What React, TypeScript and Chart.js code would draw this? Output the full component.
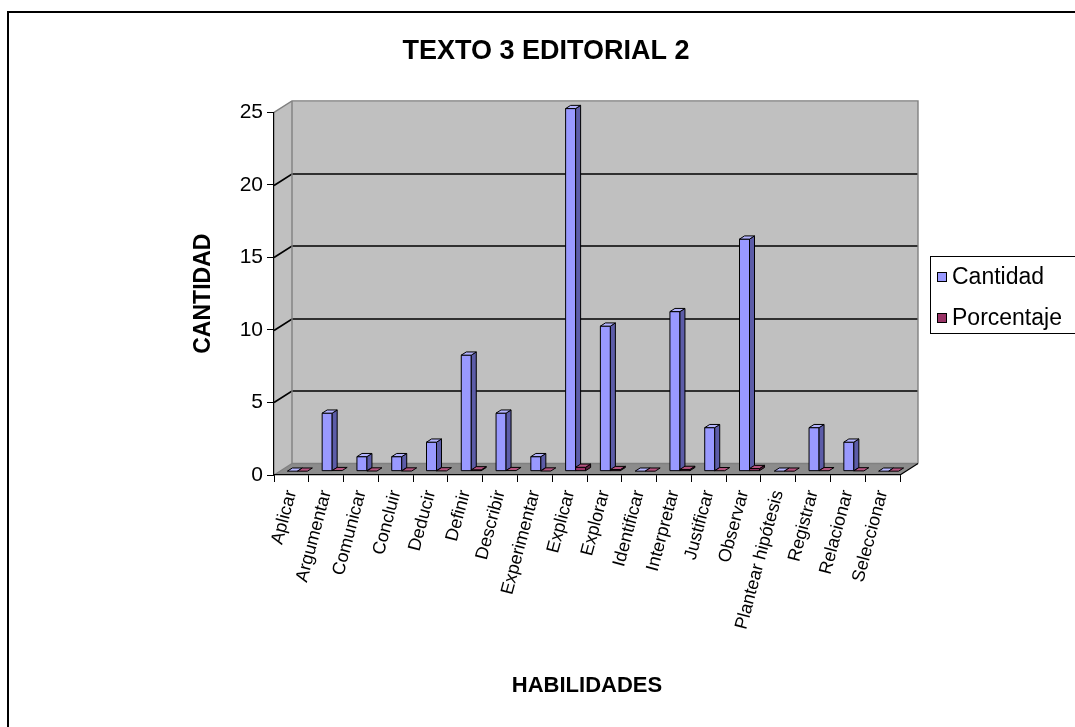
import React, { useEffect, useRef } from "react";
import { Chart, registerables } from "chart.js";

Chart.register(...registerables);

const categories = [
  "Aplicar", "Argumentar", "Comunicar", "Concluir", "Deducir", "Definir",
  "Describir", "Experimentar", "Explicar", "Explorar", "Identificar",
  "Interpretar", "Justificar", "Observar", "Plantear hipótesis", "Registrar",
  "Relacionar", "Seleccionar",
];
const cantidad = [0, 4, 1, 1, 2, 8, 4, 1, 25, 10, 0, 11, 3, 16, 0, 3, 2, 0];
const porcentaje = [0, 0.04, 0.01, 0.01, 0.02, 0.09, 0.04, 0.01, 0.27, 0.11, 0, 0.12, 0.03, 0.18, 0, 0.03, 0.02, 0];
const yTicks = [0, 5, 10, 15, 20, 25];
const seriesNames = ["Cantidad", "Porcentaje"];
const chartTitle = "TEXTO 3 EDITORIAL 2";
const xTitle = "HABILIDADES";
const yTitle = "CANTIDAD";

const FONT = "'Liberation Sans', Arial, sans-serif";
const W = 1075;
const H = 727;
const DX = 18;
const DY = 11.5;
const K = DY / DX;
const BAR_OFF = 6;
const BAR_DEPTH = 5;
const SHADES = [
  { front: "#9999FF", side: "#5C5CA8", top: "#B4B4FF" },
  { front: "#993366", side: "#5A1E3C", top: "#B5547F" },
];

function poly(ctx: CanvasRenderingContext2D, pts: number[][], fill?: string, stroke?: string, lw = 1) {
  ctx.beginPath();
  ctx.moveTo(pts[0][0], pts[0][1]);
  for (let i = 1; i < pts.length; i++) ctx.lineTo(pts[i][0], pts[i][1]);
  ctx.closePath();
  if (fill) {
    ctx.fillStyle = fill;
    ctx.fill();
  }
  if (stroke) {
    ctx.strokeStyle = stroke;
    ctx.lineWidth = lw;
    ctx.stroke();
  }
}

function line(ctx: CanvasRenderingContext2D, pts: number[][], color: string, lw: number) {
  ctx.beginPath();
  ctx.moveTo(pts[0][0], pts[0][1]);
  for (let i = 1; i < pts.length; i++) ctx.lineTo(pts[i][0], pts[i][1]);
  ctx.strokeStyle = color;
  ctx.lineWidth = lw;
  ctx.stroke();
}

const frame3d = {
  id: "frame3d",
  beforeDraw(chart: any) {
    const { ctx, chartArea: a, scales } = chart;
    const ys = scales.y;
    const L = a.left, R = a.right, T = a.top, B = a.bottom;
    ctx.save();
    // back wall
    poly(ctx, [[L + DX, T - DY], [R + DX, T - DY], [R + DX, B - DY], [L + DX, B - DY]], "#C0C0C0");
    // left wall
    poly(ctx, [[L, T], [L + DX, T - DY], [L + DX, B - DY], [L, B]], "#C0C0C0");
    // floor
    poly(ctx, [[L, B], [L + DX, B - DY], [R + DX, B - DY], [R, B]], "#8C8C8C");
    // gridlines
    yTicks.forEach((v) => {
      const py = Math.round(ys.getPixelForValue(v)) + 0.5;
      const isEdge = v === yTicks[0] || v === yTicks[yTicks.length - 1];
      if (isEdge) return;
      line(ctx, [[L, py], [L + DX, py - DY], [R + DX, py - DY]], "#000", 1.7);
    });
    // wall edges (gray)
    const g = "#808080";
    line(ctx, [[L, T], [L + DX, T - DY], [R + DX, T - DY], [R + DX, B - DY]], g, 1.4);
    line(ctx, [[L + DX, T - DY], [L + DX, B - DY], [R + DX, B - DY]], g, 1.4);
    line(ctx, [[L, B], [L + DX, B - DY]], g, 1.4);
    line(ctx, [[R, B], [R + DX, B - DY]], "#000", 1.2);
    ctx.restore();
  },
  beforeDatasetDraw() {
    return false;
  },
  afterDatasetsDraw(chart: any) {
    const { ctx } = chart;
    ctx.save();
    ctx.lineJoin = "miter";
    chart.data.datasets.forEach((ds: any, di: number) => {
      const meta = chart.getDatasetMeta(di);
      const sh = SHADES[di];
      meta.data.forEach((el: any) => {
        const p = el.getProps(["x", "y", "base", "width"], true);
        const x0 = p.x - p.width / 2 + BAR_OFF;
        const x1 = p.x + p.width / 2 + BAR_OFF;
        const yt = p.y - BAR_OFF * K;
        const yb = p.base - BAR_OFF * K;
        const ddx = BAR_DEPTH, ddy = BAR_DEPTH * K;
        if (yb - yt > 0.3) {
          poly(ctx, [[x0, yt], [x1, yt], [x1, yb], [x0, yb]], sh.front, "#000", 1);
          poly(ctx, [[x1, yt], [x1 + ddx, yt - ddy], [x1 + ddx, yb - ddy], [x1, yb]], sh.side, "#000", 1);
        }
        poly(ctx, [[x0, yt], [x1, yt], [x1 + ddx, yt - ddy], [x0 + ddx, yt - ddy]], sh.top, "#000", 1);
      });
    });
    ctx.restore();
  },
  afterDraw(chart: any) {
    const { ctx } = chart;
    ctx.save();
    const bx = 930.5, by = 256.5, bw = 170, bh = 77;
    ctx.fillStyle = "#fff";
    ctx.fillRect(bx, by, bw, bh);
    ctx.strokeStyle = "#000";
    ctx.lineWidth = 1;
    ctx.strokeRect(bx, by, bw, bh);
    ctx.font = `23px ${FONT}`;
    ctx.textBaseline = "middle";
    ctx.textAlign = "left";
    chart.data.datasets.forEach((ds: any, i: number) => {
      const cy = 277 + i * 41;
      ctx.fillStyle = ds.backgroundColor;
      ctx.fillRect(937.5, cy - 4.5, 9, 9);
      ctx.strokeStyle = "#000";
      ctx.strokeRect(937.5, cy - 4.5, 9, 9);
      ctx.fillStyle = "#000";
      ctx.fillText(ds.label, 952, cy + 1);
    });
    ctx.restore();
  },
};

export default function App() {
  const ref = useRef<HTMLCanvasElement | null>(null);

  useEffect(() => {
    if (!ref.current) return;
    const chart = new Chart(ref.current, {
      type: "bar",
      data: {
        labels: categories,
        datasets: [
          { label: seriesNames[0], data: cantidad, backgroundColor: SHADES[0].front },
          { label: seriesNames[1], data: porcentaje, backgroundColor: SHADES[1].front },
        ],
      },
      options: {
        responsive: false,
        animation: false,
        devicePixelRatio: 1,
        events: [],
        datasets: { bar: { categoryPercentage: 0.575, barPercentage: 1 } },
        layout: { padding: { left: 192, right: 175, top: 0, bottom: 20 } },
        plugins: {
          legend: { display: false },
          tooltip: { enabled: false },
          title: {
            display: true,
            text: chartTitle,
            color: "#000",
            font: { family: FONT, size: 27, weight: "bold" },
            padding: { top: 35, bottom: 45 },
          },
        },
        scales: {
          x: {
            afterFit: (s: any) => { s.height = 232; },
            grid: { display: true, drawOnChartArea: false, drawTicks: true, tickLength: 7, color: "#000", offset: true },
            border: { display: true, color: "#000", width: 1.2 },
            ticks: {
              color: "#000",
              font: { family: FONT, size: 18 },
              minRotation: 75,
              maxRotation: 75,
              autoSkip: false,
              padding: 6,
            },
            title: {
              display: true,
              text: xTitle,
              color: "#000",
              font: { family: FONT, size: 22, weight: "bold" },
              padding: { top: 0, bottom: 8 },
            },
          },
          y: {
            min: yTicks[0],
            max: yTicks[yTicks.length - 1],
            afterFit: (s: any) => { s.width = 82; },
            grid: { display: true, drawOnChartArea: false, drawTicks: true, tickLength: 7, color: "#000" },
            border: { display: true, color: "#000", width: 1.2 },
            ticks: {
              stepSize: yTicks[1] - yTicks[0],
              color: "#000",
              font: { family: FONT, size: 21 },
              padding: 4,
            },
            title: {
              display: true,
              text: yTitle,
              color: "#000",
              font: { family: FONT, size: 23, weight: "bold" },
              padding: { top: -2, bottom: 0 },
            },
          },
        },
      },
      plugins: [frame3d],
    } as any);
    return () => chart.destroy();
  }, []);

  return (
    <div style={{ position: "fixed", left: 0, top: 0, width: W, height: H, overflow: "hidden", background: "#fff" }}>
      <div
        style={{
          position: "absolute",
          left: 7,
          top: 11,
          width: 1200,
          height: 900,
          border: "2px solid #000",
          boxSizing: "border-box",
        }}
      />
      <canvas ref={ref} width={W} height={H} style={{ position: "absolute", left: 0, top: 0, width: W, height: H }} />
    </div>
  );
}
